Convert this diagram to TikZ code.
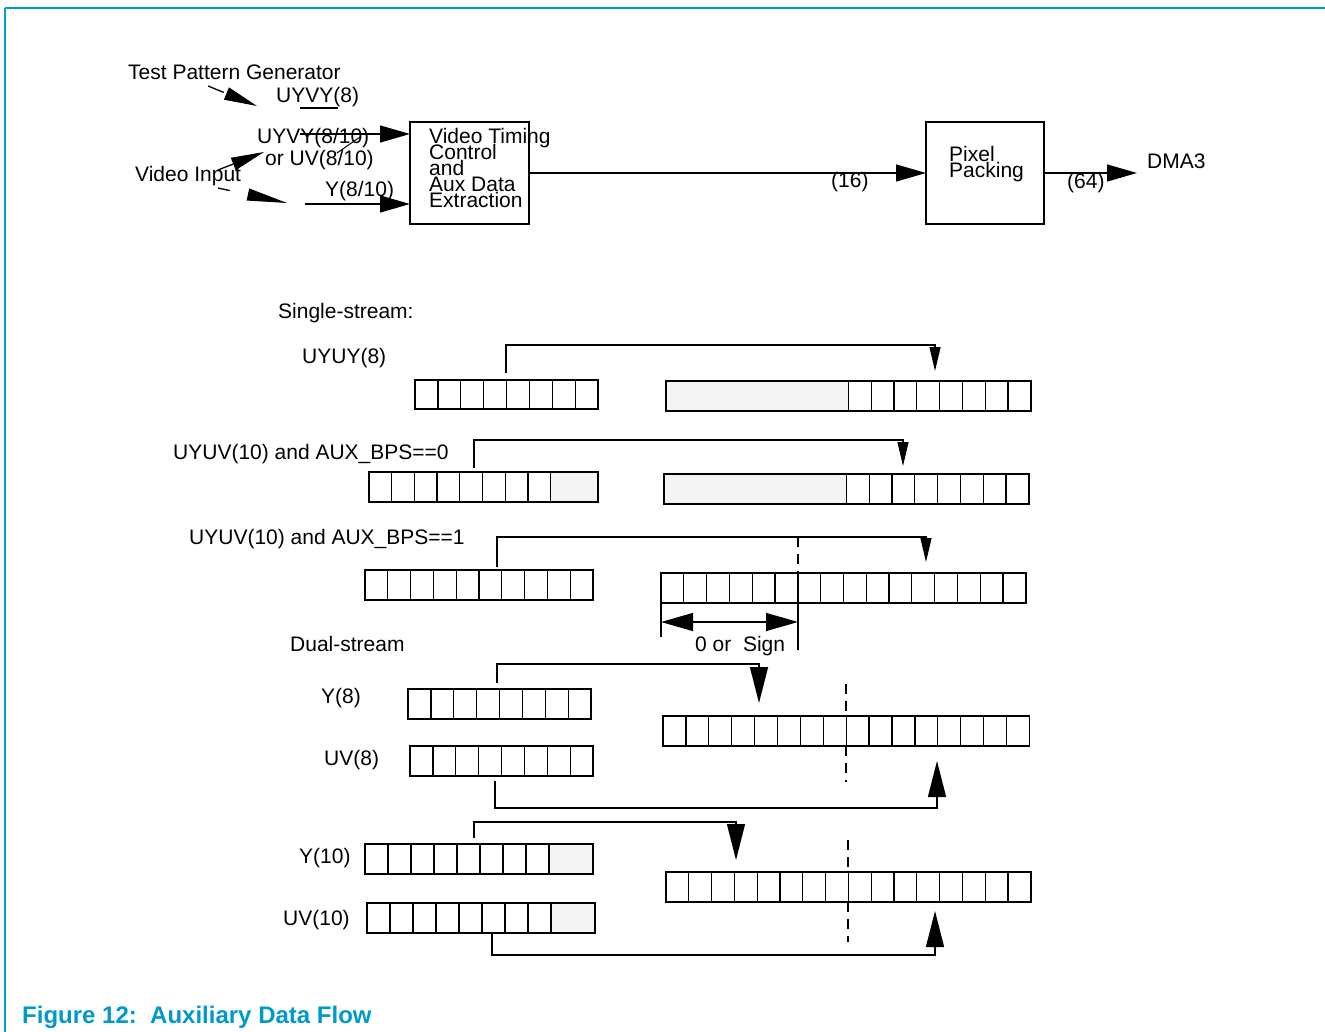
\documentclass[tikz,border=0pt]{standalone}
\usepackage{fontspec}
\setmainfont{Liberation Sans}
\usetikzlibrary{arrows.meta}
\definecolor{framec}{HTML}{00A0C6}
\definecolor{capc}{HTML}{0099CC}
\definecolor{shadec}{HTML}{F4F4F4}
\newcommand\lblfont{\fontsize{21}{16}\selectfont\lineskiplimit=-50pt\relax\lineskip=0pt\relax}
\newcommand\regbox[6]{\node[reg,minimum width={#4*#5},minimum height=#6,anchor=north west] (#1) at (#2,#3) {};}
\newcommand\regdiv[6]{\foreach \i in {#5,...,#6} \draw[cell] ({#1+\i*#3},#2) -- ++(0,#4);}
\tikzset{
  lbl/.style={inner sep=0, anchor=base west, font=\lblfont},
  reg/.style={draw, line width=1.5pt, inner sep=0, outer sep=0},
  cell/.style={line width=1.3pt},
  conn/.style={line width=1.3pt},
  blk/.style={draw, line width=1.3pt, inner sep=0, outer sep=0},
  tipT/.style={-{Triangle[length=30pt,width=17pt]}},
  tipD/.style={-{Triangle[length=33pt,width=13pt]}},
  tipL/.style={-{Triangle[length=40pt,width=12pt]}},
  tipS/.style={-{Triangle[length=24pt,width=11pt]}},
  tipB/.style={-{Triangle[length=36pt,width=18pt]}},
  tipM/.style={{Triangle[length=32pt,width=18pt]}-{Triangle[length=32pt,width=18pt]}},
  dsh/.style={line width=1.3pt, dash pattern=on 10pt off 7pt},
}
\begin{document}
\begin{tikzpicture}[x=1pt,y=-1pt]
\useasboundingbox (0,0) rectangle (1325,1032);
% frame
\draw[framec, line width=1.2pt] (5,1032) -- (5,8);
\draw[framec, line width=2pt] (5,8) -- (1325,8);
\node[inner sep=0, anchor=base west, font=\fontsize{24}{28}\selectfont\bfseries, text=capc] (cap) at (22,1023.5) {Figure 12:\ \ Auxiliary Data Flow};

% ---- top block diagram ----
\node[blk, minimum width=119, minimum height=102] (vtc) at (469.5,173) {};
\node[lbl, anchor=base west, align=left] (vtct) at (429,207.5) {Video Timing\\Control\\and\\Aux Data\\Extraction};
\node[blk, minimum width=118, minimum height=102] (pp) at (985,173) {};
\node[lbl, anchor=base west, align=left] (ppt) at (949,177.5) {Pixel\\Packing};
\draw[conn, tipT] (vtc) -- (pp);
\coordinate (dmatip) at (1137,173);
\draw[conn, tipT] (pp.east) -- (dmatip);
\node[lbl] (l16) at (831,187.5) {(16)};
\node[lbl] (l64) at (1067,188.5) {(64)};
\node[lbl] (dma) at (1147,168.5) {DMA3};

\node[lbl] (tpg) at (128,79.5) {Test Pattern Generator};
\node[lbl] (uyvy8) at (276,102.5) {UYVY(8)};
\node[lbl] (uyvy810) at (257,143.5) {UYVY(8/10)};
\node[lbl] (oruv) at (265,165.5) {or UV(8/10)};
\node[lbl] (vin) at (135,181.5) {Video Input};
\node[lbl] (y810) at (325,196.5) {Y(8/10)};

\coordinate (tpgs) at (208,86);
\coordinate (tpge) at (257,106);
\draw[conn, tipD, dash pattern=on 17pt off 40pt] (tpgs) -- (tpge);
\coordinate (vins) at (218,170);
\coordinate (vine) at (264,152);
\draw[conn, tipD] (vins) -- (vine);
\coordinate (vin2s) at (218,188);
\coordinate (vin2e) at (287,203);
\draw[conn, tipL, dash pattern=on 12pt off 40pt] (vin2s) -- (vin2e);
\coordinate (in1) at (300,134);
\draw[conn, tipT] (in1) -- (vtc.west |- in1);
\coordinate (in2) at (305,204);
\draw[conn, tipT] (in2) -- (vtc.west |- in2);
\coordinate (dga) at (337,153);
\coordinate (dgb) at (360,137);
\draw[line width=1pt] (dga) -- (dgb);
\coordinate (ula) at (300,108);
\coordinate (ulb) at (338,108);
\draw[line width=1.2pt] (ula) -- (ulb);

% ---- single stream ----
\node[lbl] (ss) at (278,318.5) {Single-stream:};
\node[lbl] (uyuy8) at (302,363.5) {UYUY(8)};
\node[lbl] (bps0) at (173,459.5) {UYUV(10) and AUX\_BPS==0};
\node[lbl] (bps1) at (189,544.5) {UYUV(10) and AUX\_BPS==1};

% row 1
\regdiv{415}{380}{22.9}{29}{1}{7}
\regbox{r1l}{415}{380}{8}{22.9}{29}
\fill[shadec] (666,381) rectangle (848.4,411);
\regdiv{666}{381}{22.8}{30}{8}{15}
\regbox{r1r}{666}{381}{16}{22.8}{30}
\coordinate (a1s) at (506,373);
\coordinate (a1m) at (935,345);
\coordinate (a1e) at (935,371);
\draw[conn, tipS] (a1s) |- (a1m) -- (a1e);

% row 2
\fill[shadec] (551,472) rectangle (598,502);
\regdiv{369}{472}{22.7}{30}{1}{8}
\regbox{r2l}{369}{472}{10}{22.9}{30}
\fill[shadec] (664,474) rectangle (846.4,504);
\regdiv{664}{474}{22.8}{30}{8}{15}
\regbox{r2r}{664}{474}{16}{22.8}{30}
\coordinate (a2s) at (474,468);
\coordinate (a2m) at (903,440);
\coordinate (a2e) at (903,466);
\draw[conn, tipS] (a2s) |- (a2m) -- (a2e);

% row 3
\regdiv{365}{570}{22.8}{30}{1}{9}
\regbox{r3l}{365}{570}{10}{22.8}{30}
\regdiv{661}{573}{22.8}{30}{1}{15}
\regbox{r3r}{661}{573}{16}{22.8}{30}
\coordinate (a3s) at (497,567);
\coordinate (a3m) at (926,537);
\coordinate (a3e) at (926,562);
\draw[conn, tipS] (a3s) |- (a3m) -- (a3e);
\coordinate (d3a) at (798,537);
\coordinate (d3b) at (798,573);
\coordinate (d3c) at (798,650);
\draw[dsh] (d3a) -- (d3b);
\draw[conn] (d3b) -- (d3c);
\coordinate (t3a) at (661,603);
\coordinate (t3b) at (661,637);
\draw[conn] (t3a) -- (t3b);
\coordinate (m3a) at (661,622);
\coordinate (m3b) at (798,622);
\draw[conn, tipM] (m3a) -- (m3b);
\node[lbl] (sign) at (695,651.5) {0 or\ \ Sign};

% ---- dual stream ----
\node[lbl] (ds) at (290,651.5) {Dual-stream};
\node[lbl] (y8) at (321,703.5) {Y(8)};
\node[lbl] (uv8) at (324,765.5) {UV(8)};
\node[lbl] (y10) at (299,863.5) {Y(10)};
\node[lbl] (uv10) at (283,925.5) {UV(10)};

\regdiv{408}{689}{22.9}{30}{1}{7}
\regbox{y8r}{408}{689}{8}{22.9}{30}
\regdiv{410}{746}{22.9}{30}{1}{7}
\regbox{uv8r}{410}{746}{8}{22.9}{30}
\regdiv{663}{716}{22.9}{30}{1}{15}
\regbox{d1r}{663}{716}{16}{22.9}{30}
\coordinate (b1s) at (497,683);
\coordinate (b1m) at (759,664);
\coordinate (b1e) at (759,703);
\draw[conn, tipB] (b1s) |- (b1m) -- (b1e);
\coordinate (b2s) at (495,781);
\coordinate (b2m) at (937,808);
\coordinate (b2e) at (937,761);
\draw[conn, tipB] (b2s) |- (b2m) -- (b2e);
\coordinate (e1a) at (846,684);
\coordinate (e1b) at (846,716);
\coordinate (e1c) at (846,746);
\coordinate (e1d) at (846,782);
\draw[dsh] (e1a) -- (e1b);
\draw[dsh] (e1c) -- (e1d);

\fill[shadec] (549,844) rectangle (593,874);
\regdiv{365}{844}{23}{30}{1}{8}
\regbox{y10r}{365}{844}{10}{22.8}{30}
\fill[shadec] (551,903) rectangle (595,933);
\regdiv{367}{903}{23}{30}{1}{8}
\regbox{uv10r}{367}{903}{10}{22.8}{30}
\regdiv{666}{872}{22.8}{30}{1}{15}
\regbox{d2r}{666}{872}{16}{22.8}{30}
\coordinate (c1s) at (474,838);
\coordinate (c1m) at (736,822);
\coordinate (c1e) at (736,860);
\draw[conn, tipB] (c1s) |- (c1m) -- (c1e);
\coordinate (c2s) at (492,932);
\coordinate (c2m) at (935,955);
\coordinate (c2e) at (935,911);
\draw[conn, tipB] (c2s) |- (c2m) -- (c2e);
\coordinate (e2a) at (848,840);
\coordinate (e2b) at (848,872);
\coordinate (e2c) at (848,902);
\coordinate (e2d) at (848,942);
\draw[dsh] (e2a) -- (e2b);
\draw[dsh] (e2c) -- (e2d);
\end{tikzpicture}
\end{document}
